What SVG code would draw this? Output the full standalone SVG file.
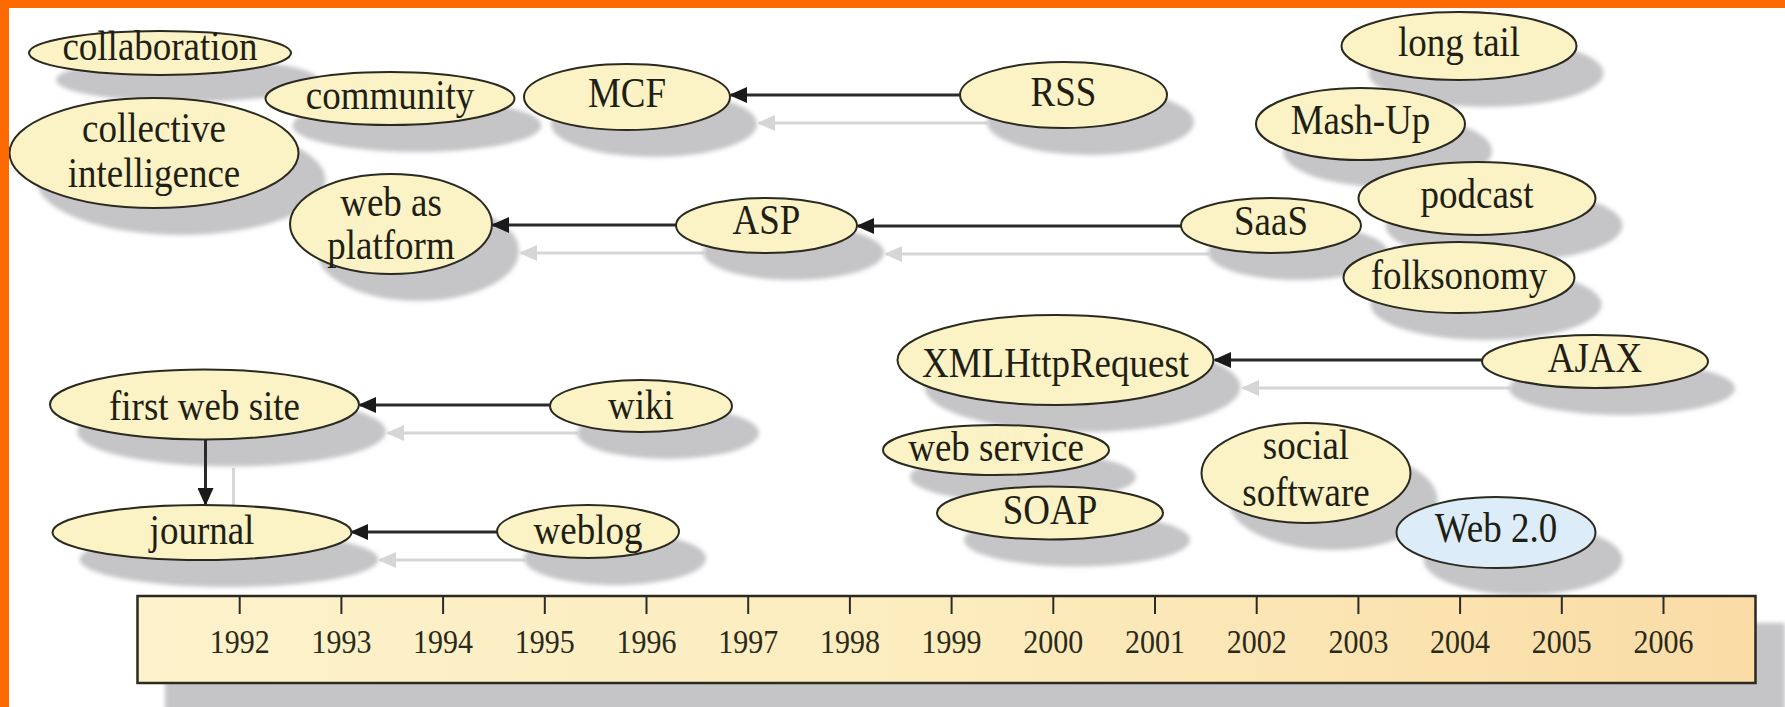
<svg xmlns="http://www.w3.org/2000/svg" width="1785" height="707" viewBox="0 0 1785 707">
<defs>
<style>
.n ellipse{fill:#fbf2c6;stroke:#2a2a20;stroke-width:2}
#web20 ellipse{fill:#dcecf9}
.n text{font-family:"Liberation Serif","Times New Roman",serif;font-size:37px;fill:#1f1f14;text-anchor:middle}
.sh ellipse,.sh rect{fill:#c5c5c8}
.c{stroke:#2a2a2a;stroke-width:3;fill:none}
.cs{stroke:#d6d6d6;stroke-width:3;fill:none}
.yr text{font-family:"Liberation Serif","Times New Roman",serif;font-size:30px;fill:#2a2a1a;text-anchor:middle}
.tk{stroke:#2a2a2a;stroke-width:2}
</style>
<filter id="blur" x="-10%" y="-10%" width="120%" height="120%"><feGaussianBlur stdDeviation="2"/></filter>
<marker id="ah" viewBox="0 0 18 16" refX="16" refY="8" markerWidth="18" markerHeight="16" markerUnits="userSpaceOnUse" orient="auto"><path d="M0,0 L18,8 L0,16 z" fill="#1a1a1a"/></marker>
<marker id="ahs" viewBox="0 0 18 16" refX="16" refY="8" markerWidth="18" markerHeight="16" markerUnits="userSpaceOnUse" orient="auto"><path d="M0,0 L18,8 L0,16 z" fill="#d6d6d6"/></marker>
<linearGradient id="tg" x1="0" y1="0" x2="1" y2="0">
<stop offset="0" stop-color="#fdf2cb"/>
<stop offset="0.5" stop-color="#fcecbe"/>
<stop offset="1" stop-color="#fadca6"/>
</linearGradient>
</defs>
<rect x="0" y="0" width="1785" height="707" fill="#ffffff"/>

<!-- connector shadows -->
<g id="connector-shadows" transform="translate(28,28)">
<path class="cs" d="M960,95 H731" marker-end="url(#ahs)"/>
<path class="cs" d="M676,225 H493" marker-end="url(#ahs)"/>
<path class="cs" d="M1181,226 H858" marker-end="url(#ahs)"/>
<path class="cs" d="M550,405 H360" marker-end="url(#ahs)"/>
<path class="cs" d="M205.5,440 V504" marker-end="url(#ahs)"/>
<path class="cs" d="M497,532 H352" marker-end="url(#ahs)"/>
<path class="cs" d="M1482,360 H1215" marker-end="url(#ahs)"/>
</g>

<!-- node shadows -->
<g class="sh" filter="url(#blur)" transform="translate(27,27)">
<ellipse cx="160" cy="53" rx="131" ry="22"/>
<ellipse cx="390" cy="98.5" rx="124.5" ry="26.5"/>
<ellipse cx="154" cy="153" rx="144.5" ry="55"/>
<ellipse cx="391" cy="224" rx="101" ry="50"/>
<ellipse cx="627" cy="97" rx="103" ry="33"/>
<ellipse cx="1063.5" cy="95" rx="103.5" ry="33"/>
<ellipse cx="766.5" cy="225.5" rx="90.5" ry="27.5"/>
<ellipse cx="1271" cy="225.5" rx="90" ry="27.5"/>
<ellipse cx="1459" cy="46" rx="117.5" ry="34"/>
<ellipse cx="1360.5" cy="124" rx="104.5" ry="36"/>
<ellipse cx="1477" cy="198.5" rx="118.5" ry="36.5"/>
<ellipse cx="1459" cy="277.5" rx="115.5" ry="35.5"/>
<ellipse cx="204.5" cy="404.5" rx="154.5" ry="35"/>
<ellipse cx="641" cy="406" rx="91" ry="26"/>
<ellipse cx="202" cy="532.5" rx="149.5" ry="27.5"/>
<ellipse cx="588" cy="531.5" rx="91" ry="26.5"/>
<ellipse cx="1055.5" cy="360" rx="158" ry="45"/>
<ellipse cx="1595" cy="361.5" rx="113" ry="26.5"/>
<ellipse cx="996" cy="450" rx="113" ry="25"/>
<ellipse cx="1050" cy="513" rx="113" ry="26.5"/>
<ellipse cx="1306" cy="473" rx="104.5" ry="50"/>
<ellipse cx="1496" cy="532.5" rx="99.5" ry="35.5"/>
</g>

<!-- timeline -->
<g id="timeline">
<g class="sh"><rect x="165" y="623" width="1620" height="90" filter="url(#blur)"/></g>
<rect x="137.5" y="596" width="1618" height="87" fill="url(#tg)" stroke="#2a2a20" stroke-width="2.5"/>
<g class="tk">
<line x1="239.7" y1="596" x2="239.7" y2="614"/>
<line x1="341.4" y1="596" x2="341.4" y2="614"/>
<line x1="443.1" y1="596" x2="443.1" y2="614"/>
<line x1="544.8" y1="596" x2="544.8" y2="614"/>
<line x1="646.5" y1="596" x2="646.5" y2="614"/>
<line x1="748.2" y1="596" x2="748.2" y2="614"/>
<line x1="849.9" y1="596" x2="849.9" y2="614"/>
<line x1="951.6" y1="596" x2="951.6" y2="614"/>
<line x1="1053.3" y1="596" x2="1053.3" y2="614"/>
<line x1="1155" y1="596" x2="1155" y2="614"/>
<line x1="1256.7" y1="596" x2="1256.7" y2="614"/>
<line x1="1358.4" y1="596" x2="1358.4" y2="614"/>
<line x1="1460.1" y1="596" x2="1460.1" y2="614"/>
<line x1="1561.8" y1="596" x2="1561.8" y2="614"/>
<line x1="1663.5" y1="596" x2="1663.5" y2="614"/>
</g>
<g class="yr">
<text transform="translate(239.7,653) scale(1,1.12)">1992</text>
<text transform="translate(341.4,653) scale(1,1.12)">1993</text>
<text transform="translate(443.1,653) scale(1,1.12)">1994</text>
<text transform="translate(544.8,653) scale(1,1.12)">1995</text>
<text transform="translate(646.5,653) scale(1,1.12)">1996</text>
<text transform="translate(748.2,653) scale(1,1.12)">1997</text>
<text transform="translate(849.9,653) scale(1,1.12)">1998</text>
<text transform="translate(951.6,653) scale(1,1.12)">1999</text>
<text transform="translate(1053.3,653) scale(1,1.12)">2000</text>
<text transform="translate(1155,653) scale(1,1.12)">2001</text>
<text transform="translate(1256.7,653) scale(1,1.12)">2002</text>
<text transform="translate(1358.4,653) scale(1,1.12)">2003</text>
<text transform="translate(1460.1,653) scale(1,1.12)">2004</text>
<text transform="translate(1561.8,653) scale(1,1.12)">2005</text>
<text transform="translate(1663.5,653) scale(1,1.12)">2006</text>
</g>
</g>

<!-- connectors -->
<g id="connectors">
<path class="c" d="M960,95 H731" marker-end="url(#ah)"/>
<path class="c" d="M676,225 H493" marker-end="url(#ah)"/>
<path class="c" d="M1181,226 H858" marker-end="url(#ah)"/>
<path class="c" d="M550,405 H360" marker-end="url(#ah)"/>
<path class="c" d="M205.5,440 V504" marker-end="url(#ah)"/>
<path class="c" d="M497,532 H352" marker-end="url(#ah)"/>
<path class="c" d="M1482,360 H1215" marker-end="url(#ah)"/>
</g>

<!-- nodes -->
<g id="collaboration" class="n"><ellipse cx="160" cy="53" rx="131" ry="22"/><text transform="translate(160,60) scale(1,1.12)">collaboration</text></g>
<g id="community" class="n"><ellipse cx="390" cy="98.5" rx="124.5" ry="26.5"/><text transform="translate(390,109) scale(1,1.12)">community</text></g>
<g id="collective-intelligence" class="n"><ellipse cx="154" cy="153" rx="144.5" ry="55"/><text transform="translate(154,142) scale(1,1.12)">collective</text><text transform="translate(154,187) scale(1,1.12)">intelligence</text></g>
<g id="web-as-platform" class="n"><ellipse cx="391" cy="224" rx="101" ry="50"/><text transform="translate(391,216) scale(1,1.12)">web as</text><text transform="translate(391,259) scale(1,1.12)">platform</text></g>
<g id="MCF" class="n"><ellipse cx="627" cy="97" rx="103" ry="33"/><text transform="translate(627,107) scale(1,1.12)">MCF</text></g>
<g id="RSS" class="n"><ellipse cx="1063.5" cy="95" rx="103.5" ry="33"/><text transform="translate(1063.5,106) scale(1,1.12)">RSS</text></g>
<g id="ASP" class="n"><ellipse cx="766.5" cy="225.5" rx="90.5" ry="27.5"/><text transform="translate(766.5,234) scale(1,1.12)">ASP</text></g>
<g id="SaaS" class="n"><ellipse cx="1271" cy="225.5" rx="90" ry="27.5"/><text transform="translate(1271,235) scale(1,1.12)">SaaS</text></g>
<g id="long-tail" class="n"><ellipse cx="1459" cy="46" rx="117.5" ry="34"/><text transform="translate(1459,56) scale(1,1.12)">long tail</text></g>
<g id="mash-up" class="n"><ellipse cx="1360.5" cy="124" rx="104.5" ry="36"/><text transform="translate(1360.5,134) scale(1,1.12)">Mash-Up</text></g>
<g id="podcast" class="n"><ellipse cx="1477" cy="198.5" rx="118.5" ry="36.5"/><text transform="translate(1477,208) scale(1,1.12)">podcast</text></g>
<g id="folksonomy" class="n"><ellipse cx="1459" cy="277.5" rx="115.5" ry="35.5"/><text transform="translate(1459,289) scale(1,1.12)">folksonomy</text></g>
<g id="first-web-site" class="n"><ellipse cx="204.5" cy="404.5" rx="154.5" ry="35"/><text transform="translate(204.5,420) scale(1,1.12)">first web site</text></g>
<g id="wiki" class="n"><ellipse cx="641" cy="406" rx="91" ry="26"/><text transform="translate(641,419) scale(1,1.12)">wiki</text></g>
<g id="journal" class="n"><ellipse cx="202" cy="532.5" rx="149.5" ry="27.5"/><text transform="translate(202,544) scale(1,1.12)">journal</text></g>
<g id="weblog" class="n"><ellipse cx="588" cy="531.5" rx="91" ry="26.5"/><text transform="translate(588,544) scale(1,1.12)">weblog</text></g>
<g id="XMLHttpRequest" class="n"><ellipse cx="1055.5" cy="360" rx="158" ry="45"/><text transform="translate(1055.5,377) scale(1,1.12)">XMLHttpRequest</text></g>
<g id="AJAX" class="n"><ellipse cx="1595" cy="361.5" rx="113" ry="26.5"/><text transform="translate(1595,372) scale(1,1.12)">AJAX</text></g>
<g id="web-service" class="n"><ellipse cx="996" cy="450" rx="113" ry="25"/><text transform="translate(996,461) scale(1,1.12)">web service</text></g>
<g id="SOAP" class="n"><ellipse cx="1050" cy="513" rx="113" ry="26.5"/><text transform="translate(1050,524) scale(1,1.12)">SOAP</text></g>
<g id="social-software" class="n"><ellipse cx="1306" cy="473" rx="104.5" ry="50"/><text transform="translate(1306,459) scale(1,1.12)">social</text><text transform="translate(1306,506) scale(1,1.12)">software</text></g>
<g id="web20" class="n"><ellipse cx="1496" cy="532.5" rx="99.5" ry="35.5"/><text transform="translate(1496,542) scale(1,1.12)">Web 2.0</text></g>

<!-- orange frame -->
<rect x="0" y="0" width="1785" height="8" fill="#ff6a00"/>
<rect x="0" y="0" width="9" height="707" fill="#ff6a00"/>
</svg>
